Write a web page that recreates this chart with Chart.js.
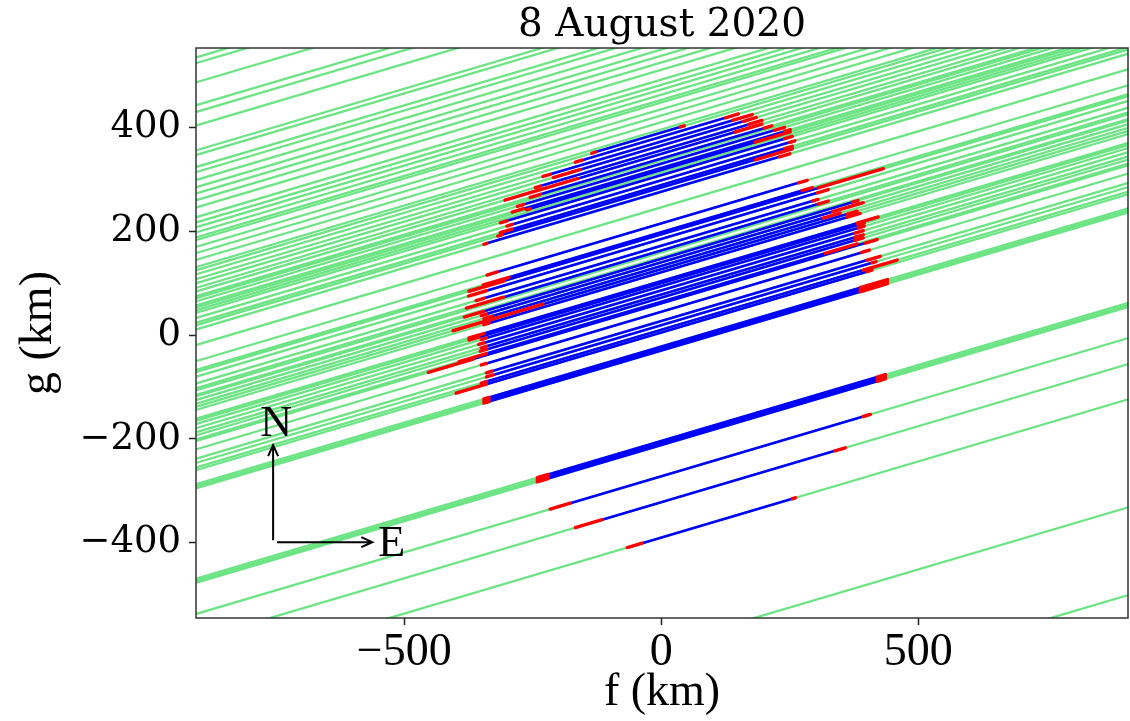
<!DOCTYPE html>
<html lang="en">
<head>
  <meta charset="UTF-8">
  <title>8 August 2020 - chords</title>
  <script src="https://cdn.jsdelivr.net/npm/chart.js"></script>
  <style>
    * { margin: 0; padding: 0; }
    body { width: 1130px; height: 721px; background: #fff; overflow: hidden; }
    #chart { display: block; }
  </style>
</head>
<body>
<canvas id="chart" width="1130" height="721"></canvas>

<script>
  const chartTitle = '8 August 2020';

  // axis ranges and ticks (km)
  const fRange = [-905, 908];
  const gRange = [-545, 553];
  const fTicks = [-500, 0, 500];
  const gTicks = [-400, -200, 0, 200, 400];

  // all chords run parallel, g = g0 + trackSlope * f
  const trackSlope = 0.293;

  // tracks without a positive chord (g at f = 0)
  const missIntercepts = [800, 789, 752, 708, 695, 669, 621, 612, 589, 579, 564, 550, 538, 525,
    511, 492, 482, 473, 463, 453, 448, 435, 423, 410, 396, 336, 313, 246, 159, 150, -598, -767];

  // positive chords: intercept, start and end of the chord in f
  const chordIntercepts = [390, 382, 373, 365, 356, 349, 340, 330, 322, 318, 308, 298, 289, 284, 276,
    215, 198, 194, 185, 172, 163, 147, 140, 133, 127, 121, 104, 100, 94, 86, 78, 72, 64, 61, 45,
    27, 19, 10, 5, -22, -26, -30,
    -204, -208, -212, -272, -322, -390];
  const chordStart = [-128, -154, -216, -196, -235, -163, -235, -268, -268, -255, -300, -290, -290, -310, -339,
    -319, -296, -305, -340, -345, -307, -346, -340, -330, -350, -335, -345, -355, -340, -345, -340, -340, -340, -366, -340,
    -330, -327, -340, -340, -335, -335, -335,
    -220, -220, -220, -177, -115, -37];
  const chordEnd = [37, 125, 140, 160, 170, 144, 200, 220, 240, 183, 240, 250, 240, 183, 230,
    267, 274, 305, 304, 294, 305, 372, 333, 315, 362, 362, 381, 383, 383, 377, 377, 377, 319, 397, 390,
    401, 410, 393, 400, 387, 387, 387,
    420, 420, 420, 393, 338, 255];
  // timing uncertainty at each end (f from, f to)
  const errIngress = [[-135, -128], [-167, -154], [-230, -216], [-210, -158], [-245, -235], [-304, -163], [-255, -235],
    [-280, -268], [-290, -268], [-262, -255], [-313, -300], [-300, -290], [-313, -290], [-318, -310], [-345, -339],
    [-339, -319], [-346, -296], [-374, -305], [-375, -340], [-360, -345], [-379, -307], [-383, -346], [-350, -340],
    [-345, -330], [-405, -230], [-345, -335], [-374, -345], [-374, -355], [-350, -340], [-355, -345], [-350, -340],
    [-352, -340], [-393, -340], [-453, -366], [-350, -340], [-340, -330], [-340, -327], [-350, -340], [-399, -340],
    [-345, -335], [-345, -335], [-345, -335],
    [-241, -220], [-241, -220], [-241, -220], [-216, -177], [-167, -115], [-66, -37]];
  const errEgress = [[37, 45], [125, 150], [140, 177], [160, 185], [170, 196], [144, 196], [200, 215],
    [220, 240], [240, 251], [183, 251], [240, 255], [250, 260], [240, 255], [183, 255], [230, 250],
    [267, 284], [274, 294], [305, 432], [304, 325], [294, 305], [305, 325], [372, 383], [333, 393],
    [315, 348], [362, 381], [362, 387], [381, 422], [383, 395], [383, 395], [377, 393], [377, 393],
    [377, 393], [319, 381], [397, 420], [390, 405], [401, 426], [410, 418], [393, 459], [400, 410],
    [387, 440], [387, 440], [387, 440],
    [420, 436], [420, 436], [420, 436], [393, 407], [338, 358], [255, 261]];

  // compass (km): origin, arm lengths
  const compassOrigin = [-755, -395];
  const compassArms = [193, 183];

  function track(g0, f1, f2) {
    return [{x: f1, y: g0 + trackSlope * f1}, {x: f2, y: g0 + trackSlope * f2}];
  }

  function seg(data, color, width, order) {
    return {
      data: data,
      showLine: true,
      borderColor: color,
      borderWidth: width,
      borderCapStyle: 'round',
      pointRadius: 0,
      order: order,
      clip: 0
    };
  }

  const datasets = [];
  missIntercepts.concat(chordIntercepts).forEach(g0 => {
    datasets.push(seg(track(g0, fRange[0] - 5, fRange[1] + 5), 'rgb(108,228,132)', 2.3, 3));
  });
  chordIntercepts.forEach((g0, i) => {
    datasets.push(seg(track(g0, chordStart[i], chordEnd[i]), '#0000ff', 2.6, 2));
    datasets.push(seg(track(g0, errIngress[i][0], errIngress[i][1]), '#ff0000', 3.4, 1));
    datasets.push(seg(track(g0, errEgress[i][0], errEgress[i][1]), '#ff0000', 3.4, 1));
  });

  function minusSign(v) {
    return String(v).replace('-', '\u2212');
  }

  // title over the plot, frame round it and the N/E compass
  const frameAndCompass = {
    id: 'frameAndCompass',
    afterDatasetsDraw(chart) {
      const {ctx, chartArea: a, scales: {x, y}} = chart;
      ctx.save();
      ctx.strokeStyle = '#333';
      ctx.lineWidth = 1.5;
      ctx.strokeRect(a.left, a.top, a.right - a.left, a.bottom - a.top);

      ctx.fillStyle = '#000';
      ctx.font = '39px "DejaVu Serif"';
      ctx.textAlign = 'center';
      ctx.textBaseline = 'alphabetic';
      ctx.fillText(chartTitle, (a.left + a.right) / 2, 36);

      const ox = x.getPixelForValue(compassOrigin[0]);
      const oy = y.getPixelForValue(compassOrigin[1]);
      const ex = x.getPixelForValue(compassOrigin[0] + compassArms[0]);
      const ny = y.getPixelForValue(compassOrigin[1] + compassArms[1]);
      ctx.strokeStyle = '#000';
      ctx.lineWidth = 2;
      ctx.beginPath();
      ctx.moveTo(ox, oy);
      ctx.lineTo(ox, ny);
      ctx.moveTo(ox - 5, ny + 11);
      ctx.lineTo(ox, ny);
      ctx.lineTo(ox + 5, ny + 11);
      ctx.moveTo(ox + 4, oy + 2);
      ctx.lineTo(ex, oy + 2);
      ctx.moveTo(ex - 11, oy - 3);
      ctx.lineTo(ex, oy + 2);
      ctx.lineTo(ex - 11, oy + 7);
      ctx.stroke();

      ctx.font = '44px "Liberation Serif"';
      ctx.textAlign = 'center';
      ctx.fillText('N', ox + 3, ny - 9);
      ctx.textAlign = 'left';
      ctx.fillText('E', ex + 6, oy + 16);
      ctx.restore();
    }
  };

  new Chart(document.getElementById('chart'), {
    type: 'scatter',
    data: {datasets: datasets},
    plugins: [frameAndCompass],
    options: {
      responsive: false,
      animation: false,
      events: [],
      layout: {padding: {left: 0, right: 2, top: 48, bottom: 0}},
      plugins: {
        legend: {display: false},
        tooltip: {enabled: false},
        title: {display: false}
      },
      scales: {
        x: {
          type: 'linear',
          min: fRange[0],
          max: fRange[1],
          afterBuildTicks: s => { s.ticks = fTicks.map(v => ({value: v})); },
          afterFit: s => { s.height = 103; },
          grid: {drawOnChartArea: false, drawTicks: true, tickLength: 7, tickColor: '#222', tickWidth: 1.5},
          border: {display: false},
          ticks: {
            color: '#000',
            padding: 0,
            maxRotation: 0,
            font: {family: 'Liberation Serif', size: 46},
            callback: minusSign
          },
          title: {
            display: true,
            text: 'f (km)',
            color: '#000',
            font: {family: 'Liberation Serif', size: 46},
            padding: {top: 0, bottom: 0}
          }
        },
        y: {
          type: 'linear',
          min: gRange[0],
          max: gRange[1],
          afterBuildTicks: s => { s.ticks = gTicks.map(v => ({value: v})); },
          afterFit: s => { s.width = 196; },
          grid: {drawOnChartArea: false, drawTicks: true, tickLength: 7, tickColor: '#222', tickWidth: 1.5},
          border: {display: false},
          ticks: {
            color: '#000',
            padding: 8,
            font: {family: 'DejaVu Serif', size: 37},
            callback: minusSign
          },
          title: {
            display: true,
            text: 'g (km)',
            color: '#000',
            font: {family: 'Liberation Serif', size: 46},
            padding: {top: 11, bottom: 11}
          }
        }
      }
    }
  });
</script>
</body>
</html>
